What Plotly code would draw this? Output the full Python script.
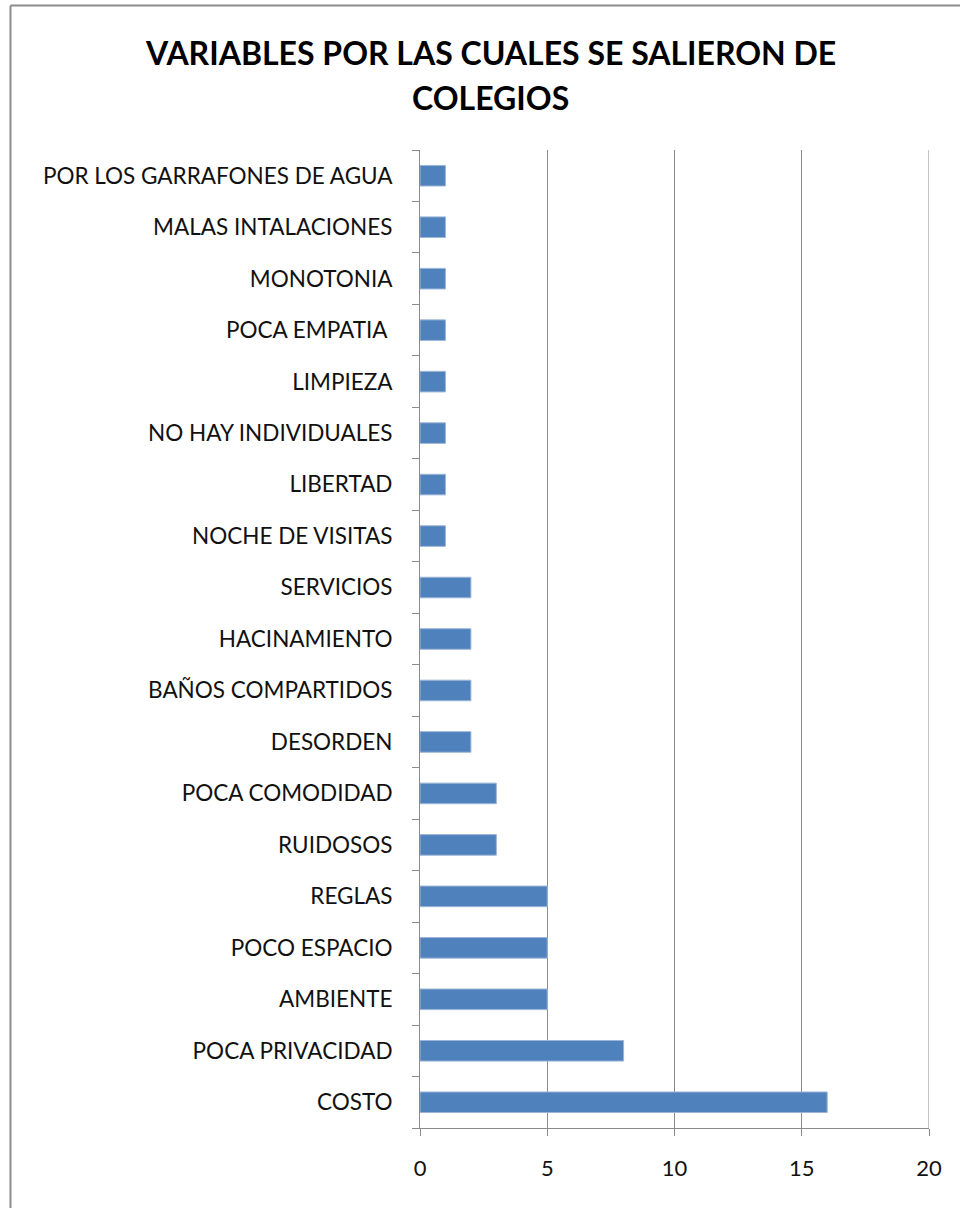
import plotly.graph_objects as go

categories = [
    "COSTO", "POCA PRIVACIDAD", "AMBIENTE", "POCO ESPACIO", "REGLAS",
    "RUIDOSOS", "POCA COMODIDAD", "DESORDEN", "BAÑOS COMPARTIDOS",
    "HACINAMIENTO", "SERVICIOS", "NOCHE DE VISITAS", "LIBERTAD",
    "NO HAY INDIVIDUALES", "LIMPIEZA", "POCA EMPATIA ", "MONOTONIA",
    "MALAS INTALACIONES", "POR LOS GARRAFONES DE AGUA",
]
values = [16, 8, 5, 5, 5, 3, 3, 2, 2, 2, 2, 1, 1, 1, 1, 1, 1, 1, 1]
x_ticks = [0, 5, 10, 15, 20]
title_line1 = "VARIABLES POR LAS CUALES SE SALIERON DE"
title_line2 = "COLEGIOS"

W, H = 960, 1208
L, R, T, B = 420, 31, 150, 80
pw, ph = W - L - R, H - T - B

FONT = "Lato"
GRID = "#8a8a8a"
TXT = "#111111"

fig = go.Figure(go.Bar(
    x=values, y=categories, orientation="h",
    marker=dict(color="#4F81BD", line=dict(color="#9db6d8", width=1)),
    hoverinfo="x+y",
))

def px_to_paper_x(px):
    return (px - L) / pw

def px_to_paper_y(py):
    return 1 - (py - T) / ph

fig.update_layout(
    width=W, height=H,
    margin=dict(l=L, r=R, t=T, b=B),
    paper_bgcolor="white", plot_bgcolor="white",
    showlegend=False,
    bargap=0.6,
    font=dict(family=FONT, color=TXT),
    xaxis=dict(
        range=[0, 20], tickvals=x_ticks, ticktext=[str(v) for v in x_ticks],
        showgrid=True, gridcolor=GRID, gridwidth=1,
        zeroline=False, showline=True, linecolor=GRID, linewidth=1,
        ticks="outside", ticklen=7, tickcolor=GRID,
        tickfont=dict(family=FONT, size=22, color=TXT),
        ticklabelstandoff=14,
    ),
    yaxis=dict(
        categoryorder="array", categoryarray=categories,
        range=[-0.5, len(categories) - 0.5],
        showgrid=False, zeroline=False,
        showline=True, linecolor=GRID, linewidth=1,
        ticks="outside", ticklen=7, tickcolor=GRID, tickson="boundaries",
        tickfont=dict(family=FONT, size=22.5, color=TXT),
        ticklabelstandoff=22,
    ),
    annotations=[
        dict(text="<b>%s</b>" % title_line1, xref="paper", yref="paper",
             x=px_to_paper_x(490), y=px_to_paper_y(52), xanchor="center", yanchor="middle",
             showarrow=False, font=dict(family=FONT, size=32, color="#000")),
        dict(text="<b>%s</b>" % title_line2, xref="paper", yref="paper",
             x=px_to_paper_x(490), y=px_to_paper_y(97), xanchor="center", yanchor="middle",
             showarrow=False, font=dict(family=FONT, size=32, color="#000")),
    ],
    shapes=[
        # gridline at the right end of the value axis
        dict(type="line", xref="x", yref="paper",
             x0=x_ticks[-1], x1=x_ticks[-1], y0=0, y1=1,
             line=dict(color=GRID, width=1), layer="below"),
        # outer chart frame (left and top edges visible)
        dict(type="line", xref="paper", yref="paper",
             x0=px_to_paper_x(10.5), x1=px_to_paper_x(10.5),
             y0=px_to_paper_y(5.5), y1=px_to_paper_y(H + 5),
             line=dict(color="#8c8c8c", width=2)),
        dict(type="line", xref="paper", yref="paper",
             x0=px_to_paper_x(10.5), x1=px_to_paper_x(W + 5),
             y0=px_to_paper_y(5.5), y1=px_to_paper_y(5.5),
             line=dict(color="#8c8c8c", width=2)),
    ],
)

fig.write_html("out.html", config={"displayModeBar": False},
               post_script="document.body.style.margin='0';")
